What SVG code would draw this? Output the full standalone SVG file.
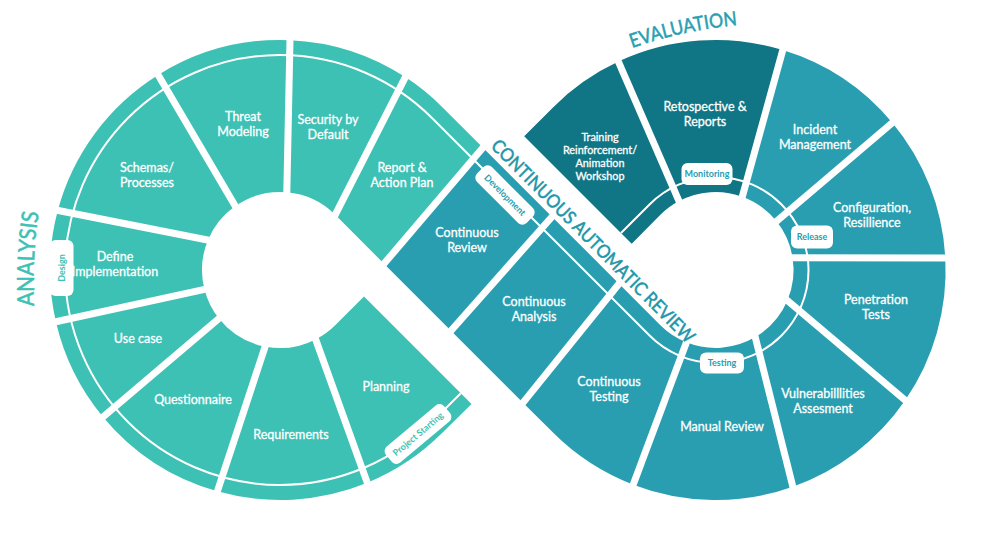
<svg xmlns="http://www.w3.org/2000/svg" width="1000" height="540" viewBox="0 0 1000 540">
<defs>
<style>
.sl{fill:#3CC1B4}
.sr{fill:#289EB0}
.sd{fill:#107584}
.lbl{font-family:Lato,"Noto Sans",sans-serif;font-size:12.5px;fill:#fff;stroke:#fff;stroke-width:0.3;text-anchor:middle}
.sm{font-size:10.8px}
.sep{stroke:#fff;stroke-width:7;fill:none}
.ring{stroke:#fff;stroke-width:2;fill:none}
.pill{fill:#fff}
.pt{font-family:Lato,"Noto Sans",sans-serif;font-size:9px;font-weight:bold;text-anchor:middle}
.ptl{fill:#3CC1B4}
.ptr{fill:#289EB0}
.ttl{font-family:Lato,"Noto Sans",sans-serif;stroke-width:0.5}
</style>
<path id="p-analysis" d="M34,306 A500,500 0 0 1 39,210"/>
<path id="p-eval" d="M632,48 A433,433 0 0 1 740,25"/>
<path id="p-car" d="M490,147 L688,345"/>
</defs>

<g id="segments">
<g id="n-security"><path class="sl" d="M290,40.2 A230,230 0 0 1 405.3,77.1 L335.2,214.8 A78,78 0 0 0 286.8,192.3 Z"/>
<text class="lbl" x="328" y="124">Security by</text><text class="lbl" x="328" y="139">Default</text></g>
<g id="n-threat"><path class="sl" d="M158.1,75 A230,230 0 0 1 290,40.2 L286.8,192.3 A78,78 0 0 0 235.3,206.1 Z"/>
<text class="lbl" x="243" y="121">Threat</text><text class="lbl" x="243" y="136">Modeling</text></g>
<g id="n-schemas"><path class="sl" d="M57.8,210.5 A230,230 0 0 1 158.1,75 L235.3,206.1 A78,78 0 0 0 208,240 Z"/>
<text class="lbl" x="147" y="172">Schemas/</text><text class="lbl" x="147" y="187">Processes</text></g>
<g id="n-define"><path class="sl" d="M55.9,321.7 A230,230 0 0 1 57.8,210.5 L208,240 A78,78 0 0 0 204.5,289.4 Z"/>
<text class="lbl" x="115" y="261">Define</text><text class="lbl" x="115" y="276">Implementation</text></g>
<g id="n-usecase"><path class="sl" d="M103,416.9 A230,230 0 0 1 55.9,321.7 L204.5,289.4 A78,78 0 0 0 218.9,318.5 Z"/>
<text class="lbl" x="138" y="342.5">Use case</text></g>
<g id="n-questionnaire"><path class="sl" d="M217.4,491.3 A230,230 0 0 1 103,416.9 L218.9,318.5 A78,78 0 0 0 265.1,346.6 Z"/>
<text class="lbl" x="193" y="403.5">Questionnaire</text></g>
<g id="n-requirements"><path class="sl" d="M367.3,482.8 A230,230 0 0 1 217.4,491.3 L265.1,346.6 A78,78 0 0 0 315.6,339.4 Z"/>
<text class="lbl" x="291" y="438.5">Requirements</text></g>
<g id="n-planning"><path class="sl" d="M471.5,403.9 L442.6,432.6 A230,230 0 0 1 367.3,482.8 L315.6,339.4 A78,78 0 0 0 335.2,325.2 L364,296.4 Z"/>
<text class="lbl" x="386" y="390.5">Planning</text></g>
<g id="n-report"><path class="sl" d="M405.3,77.1 A230,230 0 0 1 442.6,107.4 L483,147.7 L384,263.7 L335.2,214.8 Z"/>
<text class="lbl" x="402" y="172">Report &amp;</text><text class="lbl" x="402" y="187">Action Plan</text></g>

<g id="n-training"><path class="sd" d="M524.2,136.2 L553,107.4 A230,230 0 0 1 618.4,61.6 L679,201.1 A78,78 0 0 0 660.4,214.8 L631.7,243.7 Z"/>
<text class="lbl sm" x="600" y="141">Training</text><text class="lbl sm" x="600" y="154">Reinforcement/</text><text class="lbl sm" x="600" y="167">Animation</text><text class="lbl sm" x="600" y="180">Workshop</text></g>
<g id="n-retrospective"><path class="sd" d="M618.4,61.6 A230,230 0 0 1 782.8,50.1 L742.3,196.7 A78,78 0 0 0 679,201.1 Z"/>
<text class="lbl" x="705" y="111">Retospective &amp;</text><text class="lbl" x="705" y="126">Reports</text></g>
<g id="n-incident"><path class="sr" d="M782.8,50.1 A230,230 0 0 1 892.3,122.8 L776.6,221.3 A78,78 0 0 0 742.3,196.7 Z"/>
<text class="lbl" x="815" y="134">Incident</text><text class="lbl" x="815" y="149">Management</text></g>
<g id="n-configuration"><path class="sr" d="M892.3,122.8 A230,230 0 0 1 945.3,258 L792.6,257.8 A78,78 0 0 0 776.6,221.3 Z"/>
<text class="lbl" x="872" y="212">Configuration,</text><text class="lbl" x="872" y="227">Resillience</text></g>
<g id="n-penetration"><path class="sr" d="M945.3,258 A230,230 0 0 1 905.2,400.3 L787.4,300.5 A78,78 0 0 0 792.6,257.8 Z"/>
<text class="lbl" x="876" y="304">Penetration</text><text class="lbl" x="876" y="319">Tests</text></g>
<g id="n-vulnerabilities"><path class="sr" d="M905.2,400.3 A230,230 0 0 1 792.8,486.7 L755.3,337.1 A78,78 0 0 0 787.4,300.5 Z"/>
<text class="lbl" x="823" y="397.5">Vulnerabilllities</text><text class="lbl" x="823" y="412.5">Assesment</text></g>
<g id="n-manual"><path class="sr" d="M792.8,486.7 A230,230 0 0 1 633.2,484.7 L686.4,342.3 A78,78 0 0 0 755.3,337.1 Z"/>
<text class="lbl" x="722" y="430.5">Manual Review</text></g>
<g id="n-ctesting"><path class="sr" d="M619,283.7 L660.4,325.2 A78,78 0 0 0 686.4,342.3 L633.2,484.7 A230,230 0 0 1 553,432.6 L523,402.7 Z"/>
<text class="lbl" x="609" y="385.5">Continuous</text><text class="lbl" x="609" y="400.5">Testing</text></g>
<g id="n-canalysis"><path class="sr" d="M552,216.7 L619,283.7 L523,402.7 L451,330.7 Z"/>
<text class="lbl" x="534" y="306">Continuous</text><text class="lbl" x="534" y="321">Analysis</text></g>
<g id="n-creview"><path class="sr" d="M483,147.7 L552,216.7 L451,330.7 L384,263.7 Z"/>
<text class="lbl" x="467" y="237">Continuous</text><text class="lbl" x="467" y="252">Review</text></g>
</g>

<g id="separators" class="sep">
<line x1="408" y1="71.8" x2="332.5" y2="220.1"/>
<line x1="290.1" y1="34.2" x2="286.7" y2="198.3"/>
<line x1="155.1" y1="69.8" x2="238.3" y2="211.3"/>
<line x1="51.9" y1="209.3" x2="213.9" y2="241.2"/>
<line x1="50" y1="323" x2="210.4" y2="288.1"/>
<line x1="98.4" y1="420.8" x2="223.5" y2="314.6"/>
<line x1="215.5" y1="497" x2="267" y2="340.9"/>
<line x1="369.3" y1="488.4" x2="313.6" y2="333.8"/>
<line x1="486.9" y1="143.1" x2="380.1" y2="268.3"/>
<line x1="556" y1="212.2" x2="447" y2="335.2"/>
<line x1="622.8" y1="279" x2="519.2" y2="407.4"/>
<line x1="616" y1="56.1" x2="681.4" y2="206.6"/>
<line x1="784.4" y1="44.3" x2="740.7" y2="202.5"/>
<line x1="896.9" y1="118.9" x2="772" y2="225.2"/>
<line x1="951.3" y1="258" x2="786.6" y2="257.8"/>
<line x1="909.8" y1="404.2" x2="782.8" y2="296.6"/>
<line x1="794.3" y1="492.5" x2="753.8" y2="331.3"/>
<line x1="631.1" y1="490.3" x2="688.5" y2="336.7"/>
</g>

<g id="ring-line" class="ring">
<path d="M460.8,393.2 L432,422 A215,215 0 1 1 432,118 L649.8,335.8 A93,93 0 1 0 649.8,204.2 L621,233"/>
</g>

<g id="stage-labels">
<g id="st-design" transform="translate(61.5,268) rotate(-90)"><rect class="pill" x="-28" y="-12" width="56" height="24" rx="6"/><text class="pt ptl" x="0" y="3.2">Design</text></g>
<g id="st-project" transform="translate(418,434) rotate(-40)"><rect class="pill" x="-38" y="-10.5" width="76" height="21" rx="6"/><text class="pt ptl" x="0" y="3.2">Project Starting</text></g>
<g id="st-development" transform="translate(505,195) rotate(45)"><rect class="pill" x="-35" y="-10.5" width="70" height="21" rx="6"/><text class="pt ptr" x="0" y="3.2">Development</text></g>
<g id="st-monitoring" transform="translate(707,174)"><rect class="pill" x="-25.5" y="-11" width="51" height="22" rx="6"/><text class="pt ptr" x="0" y="3.2">Monitoring</text></g>
<g id="st-release" transform="translate(812,237)"><rect class="pill" x="-21" y="-11.5" width="42" height="23" rx="6"/><text class="pt ptr" x="0" y="3.2">Release</text></g>
<g id="st-testing" transform="translate(722,363)"><rect class="pill" x="-22" y="-10.5" width="44" height="21" rx="6"/><text class="pt ptr" x="0" y="3.2">Testing</text></g>
</g>

<g id="titles">
<text class="ttl" font-size="23" fill="#3CC1B4" stroke="#3CC1B4"><textPath href="#p-analysis" textLength="94" lengthAdjust="spacingAndGlyphs">ANALYSIS</textPath></text>
<text class="ttl" font-size="19.5" fill="#27A0B2" stroke="#27A0B2"><textPath href="#p-eval" textLength="108" lengthAdjust="spacingAndGlyphs">EVALUATION</textPath></text>
<text class="ttl" font-size="18.5" fill="#2196A8" stroke="#2196A8"><textPath href="#p-car" textLength="279" lengthAdjust="spacingAndGlyphs">CONTINUOUS AUTOMATIC REVIEW</textPath></text>
</g>
</svg>
